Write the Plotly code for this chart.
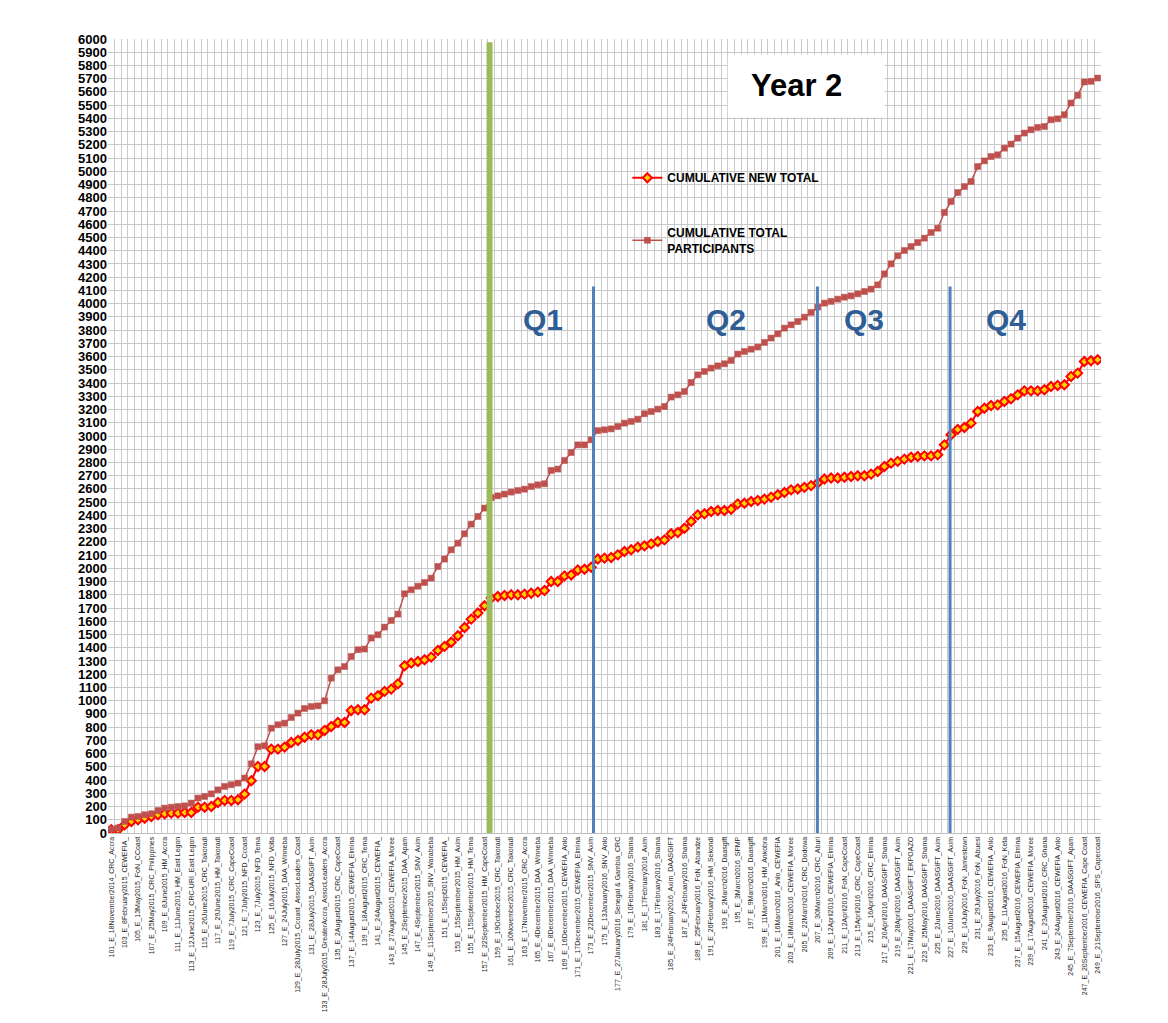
import plotly.graph_objects as go

# ---------------- data ----------------
sessions = list(range(101, 250))

label_sessions = list(range(101, 250, 2))
tick_labels = [
    "101_E_18November2014_CRC_Accra",
    "103_E_8February2015_CEWEFIA_",
    "105_E_13May2015_FoN_CCoast",
    "107_E_25May2015_CRC_Philippines",
    "109_E_8June2015_HM_Accra",
    "111_E_11June2015_HM_East Legon",
    "113_E_12June2015_CRC-URI_East Legon",
    "115_E_26June2015_CRC_Takoradi",
    "117_E_29June2015_HM_Takoradi",
    "119_E_7July2015_CRC_CapeCoast",
    "121_E_7July2015_NFD_Ccoast",
    "123_E_7July2015_NFD_Tema",
    "125_E_16July2015_NFD_Volta",
    "127_E_24July2015_DAA_Winneba",
    "129_E_28July2015_Ccoast_AssocLeaders_Coast",
    "131_E_28July2015_DAASGIFT_Axim",
    "133_E_28July2015_GreaterAccra_AssocLeaders_Accra",
    "135_E_2August2015_CRC_CapeCoast",
    "137_E_14August2015_CEWEFIA_Elmina",
    "139_E_18August2015_CRC_Tema",
    "141_E_24August2015_CEWEFIA_",
    "143_E_27August2015_CEWEFIA_Moree",
    "145_E_2September2015_DAA_Apam",
    "147_E_4September2015_SNV_Axim",
    "149_E_11September2015_SNV_Warabeba",
    "151_E_15Sept2015_CEWEFIA_",
    "153_E_15September2015_HM_Axim",
    "155_E_15September2015_HM_Tema",
    "157_E_22September2015_HM_CapeCoast",
    "159_E_19October2015_CRC_Takoradi",
    "161_E_10November2015_CRC_Takoradi",
    "163_E_17November2015_CRC_Accra",
    "165_E_4December2015_DAA_Winneba",
    "167_E_8December2015_DAA_Winneba",
    "169_E_16December2015_CEWEFIA_Anlo",
    "171_E_17December2015_CEWEFIA_Elmina",
    "173_E_22December2015_SNV_Axim",
    "175_E_13January2016_SNV_Anlo",
    "177_E_27January2016_Senegal & Gambia_CRC",
    "179_E_10February2016_Shama",
    "181_E_17February2016_Axim",
    "183_E_17February2016_Shama",
    "185_E_24February2016_Axim_DAASGIFT",
    "187_E_24February2016_Shama",
    "189_E_25February2016_FoN_Abandze",
    "191_E_26February2016_HM_Sekondi",
    "193_E_2March2016_Daasgift",
    "195_E_3March2016_SFMP",
    "197_E_9March2016_Daasgift",
    "199_E_11March2016_HM_Ankobra",
    "201_E_16March2016_Anlo_CEWEFIA",
    "203_E_18March2016_CEWEFIA_Moree",
    "205_E_22March2016_CRC_Dodowa",
    "207_E_30March2016_CRC_Aburi",
    "209_E_12April2016_CEWEFIA_Elmina",
    "211_E_12April2016_FoN_CapeCoast",
    "213_E_15April2016_CRC_CapeCoast",
    "215_E_16April2016_CRC_Elmina",
    "217_E_20April2016_DAASGIFT_Shama",
    "219_E_28April2016_DAASGIFT_Axim",
    "221_E_17May2016_DAASGIFT_EKPOAZO",
    "223_E_25May2016_DAASGIFT_Shama",
    "225_E_2June2016_DAASGIFT_Axim",
    "227_E_10June2016_DAASGIFT_Axim",
    "229_E_14July2016_FoN_Jamestown",
    "231_E_29July2016_FoN_Abuesi",
    "233_E_9August2016_CEWEFIA_Anlo",
    "235_E_11August2016_FoN_Keta",
    "237_E_15August2016_CEWEFIA_Elmina",
    "239_E_17August2016_CEWEFIA_Moree",
    "241_E_23August2016_CRC_Ghana",
    "243_E_24August2016_CEWEFIA_Anlo",
    "245_E_7September2016_DAASGIFT_Apam",
    "247_E_20September2016_CEWEFIA_Cape Coast",
    "249_E_21September2016_SPS_Capecoast",
]

cumulative_new_total = [
    25, 25, 62, 87, 100, 112, 125, 138, 145, 150,
    150, 155, 155, 195, 195, 200, 231, 246, 246, 251,
    294, 395, 503, 503, 634, 634, 649, 684, 699, 724,
    742, 742, 775, 805, 835, 835, 926, 931, 931, 1019,
    1037, 1070, 1087, 1127, 1263, 1284, 1296, 1309, 1329, 1379,
    1410, 1442, 1490, 1553, 1616, 1662, 1717, 1775, 1787, 1795,
    1800, 1800, 1805, 1812, 1820, 1832, 1900, 1900, 1943, 1950,
    1988, 1993, 2008, 2070, 2077, 2082, 2102, 2127, 2140, 2160,
    2170, 2185, 2203, 2215, 2261, 2271, 2303, 2354, 2404, 2412,
    2430, 2437, 2437, 2447, 2487, 2492, 2505, 2513, 2523, 2538,
    2556, 2573, 2593, 2600, 2612, 2625, 2645, 2675, 2682, 2682,
    2688, 2694, 2699, 2699, 2712, 2732, 2770, 2795, 2808, 2825,
    2840, 2845, 2850, 2850, 2858, 2933, 3009, 3050, 3064, 3097,
    3185, 3210, 3230, 3235, 3261, 3281, 3311, 3341, 3341, 3341,
    3349, 3374, 3382, 3387, 3450, 3475, 3563, 3568, 3576,
]

cumulative_total_participants = [
    30, 37, 87, 120, 125, 138, 145, 170, 188, 195,
    200, 205, 226, 264, 276, 296, 326, 352, 365, 377,
    415, 523, 652, 659, 792, 818, 830, 873, 906, 941,
    956, 961, 999, 1170, 1233, 1258, 1334, 1385, 1390, 1473,
    1498, 1556, 1606, 1654, 1808, 1838, 1865, 1893, 1926, 2014,
    2070, 2140, 2190, 2261, 2334, 2392, 2455, 2535, 2548, 2561,
    2576, 2588, 2598, 2618, 2631, 2639, 2740, 2750, 2815, 2875,
    2933, 2933, 2971, 3041, 3047, 3054, 3072, 3097, 3110, 3127,
    3168, 3185, 3203, 3223, 3294, 3311, 3336, 3404, 3462, 3488,
    3513, 3530, 3546, 3571, 3619, 3639, 3656, 3672, 3707, 3740,
    3772, 3815, 3840, 3865, 3898, 3934, 3974, 4004, 4017, 4034,
    4049, 4059, 4074, 4092, 4110, 4142, 4225, 4301, 4362, 4402,
    4432, 4462, 4495, 4538, 4570, 4689, 4772, 4840, 4885, 4923,
    5036, 5079, 5112, 5125, 5175, 5206, 5251, 5289, 5314, 5332,
    5339, 5390, 5397, 5428, 5516, 5574, 5675, 5680, 5705,
]

quarter_names = ["Q1", "Q2", "Q3", "Q4"]
y_ticks = list(range(0, 6001, 100))

# ---------------- figure ----------------
fig = go.Figure()

fig.add_trace(go.Scatter(
    x=sessions, y=cumulative_new_total,
    name="<b>CUMULATIVE NEW TOTAL</b>",
    mode="lines+markers",
    line=dict(color="#FF0000", width=2),
    marker=dict(symbol="diamond", size=7, color="#FFD200",
                line=dict(color="#FF0000", width=2)),
    legendgroup="a",
))

fig.add_trace(go.Scatter(
    x=sessions, y=cumulative_total_participants,
    name="<b>CUMULATIVE TOTAL<br>PARTICIPANTS</b>",
    mode="lines+markers",
    line=dict(color="#C0504D", width=1.5),
    marker=dict(symbol="square", size=6, color="#C0504D",
                line=dict(color="#C0504D", width=0.5)),
    legendgroup="b",
))

# green divider (start of Year 2)
fig.add_shape(type="line", xref="x", yref="y", x0=157.75, x1=157.75,
              y0=0, y1=5975, line=dict(color="#9BBB59", width=6), layer="above")
# blue quarter dividers
for xv in [173.35, 206.95, 226.85]:
    fig.add_shape(type="line", xref="x", yref="y", x0=xv, x1=xv,
                  y0=0, y1=4130, line=dict(color="#4F81BD", width=3), layer="above")

q_x = [165.7, 193.3, 214.0, 235.3]
for name, xv in zip(quarter_names, q_x):
    fig.add_annotation(x=xv, y=3880, xref="x", yref="y", text=f"<b>{name}</b>",
                       showarrow=False,
                       font=dict(size=30, color="#2E5E95", family="Liberation Sans, Arial"))

# Year 2 box
fig.add_shape(type="rect", xref="x", yref="y", x0=193.5, x1=217.0, y0=5406, y1=5882,
              fillcolor="white", line=dict(color="white", width=0), layer="above")
fig.add_annotation(x=203.8, y=5646, xref="x", yref="y", text="<b>Year 2</b>",
                   showarrow=False,
                   font=dict(size=31, color="black", family="Liberation Sans, Arial"))

fig.update_layout(
    width=1160, height=1015,
    margin=dict(l=100.4, r=66.7, t=31.4, b=189.8, autoexpand=False),
    paper_bgcolor="white", plot_bgcolor="white",
    showlegend=True,
    legend=dict(x=0.523, y=0.8435, xanchor="left", yanchor="top",
                bgcolor="rgba(0,0,0,0)", tracegroupgap=36,
                font=dict(size=12, color="black", family="Liberation Sans, Arial"),
                itemwidth=30),
    font=dict(family="Liberation Sans, Arial", color="black"),
)

fig.update_xaxes(
    range=[100.5, 249.5], automargin=False,
    tickmode="array", tickvals=label_sessions, ticktext=tick_labels,
    tickangle=-90, tickfont=dict(size=7, color="#262626"),
    showgrid=False, zeroline=False, ticks="",
    showline=True, linecolor="#BFBFBF", linewidth=1,
    minor=dict(tick0=100.5, dtick=1, showgrid=True, gridcolor="#C9C9C9", gridwidth=1),
)
fig.update_yaxes(
    range=[0, 6000], automargin=False,
    tickmode="array", tickvals=y_ticks, ticktext=[f"<b>{v}</b>" for v in y_ticks],
    tickfont=dict(size=13, color="black"),
    showgrid=True, gridcolor="#C9C9C9", gridwidth=1,
    zeroline=False, ticks="", showline=False,
)

fig.write_html("out.html")
